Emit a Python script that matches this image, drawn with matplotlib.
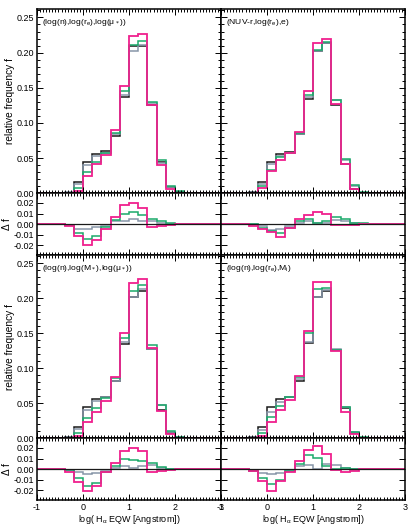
import numpy as np
import matplotlib
matplotlib.use("Agg")
import matplotlib.pyplot as plt
from matplotlib.ticker import MultipleLocator, FixedLocator

plt.rcParams['font.family'] = ['Liberation Sans', 'DejaVu Sans']
plt.rcParams['mathtext.fontset'] = 'dejavusans'

# bins of log(H_alpha EQW): edges from -1 to 3 in steps of 0.2
edges = np.round(np.arange(-1.0, 3.0001, 0.2), 2)
# values given for the bins starting at -0.4 ... 2.0 (13 bins); other bins are zero
first_bin = 3

panel_labels = [r"(log(n),log(r$_\mathregular{e}$),log(μ$_*$))",
                r"(NUV-r,log(r$_\mathregular{e}$),e)",
                r"(log(n),log(M$_*$),log(μ$_*$))",
                r"(log(n),log(r$_\mathregular{e}$),M$_\mathregular{i}$)"]

# main histograms: black, gray, green, pink
p1_black = [0.001, 0.016, 0.044, 0.056, 0.0595, 0.081, 0.137, 0.209, 0.2095, 0.126, 0.044, 0.0086, 0.0015]
p1_gray  = [0.002, 0.013, 0.040, 0.053, 0.0576, 0.084, 0.140, 0.203, 0.211, 0.128, 0.043, 0.0095, 0.001]
p1_green = [0.001, 0.0076, 0.030, 0.045, 0.0567, 0.086, 0.146, 0.211, 0.216, 0.130, 0.047, 0.011, 0.003]
p1_pink  = [0.0, 0.003, 0.024, 0.041, 0.054, 0.0895, 0.152, 0.223, 0.226, 0.125, 0.040, 0.006, 0.001]

p2_black = [0.0024, 0.0157, 0.044, 0.0557, 0.0586, 0.084, 0.134, 0.203, 0.213, 0.125, 0.041, 0.006, 0.0005]
p2_gray  = [0.0024, 0.013, 0.041, 0.053, 0.058, 0.0845, 0.137, 0.202, 0.214, 0.132, 0.0476, 0.010, 0.001]
p2_green = [0.0005, 0.011, 0.033, 0.052, 0.058, 0.0857, 0.1395, 0.204, 0.2145, 0.133, 0.049, 0.012, 0.0024]
p2_pink  = [0.0, 0.007, 0.031, 0.0476, 0.058, 0.087, 0.146, 0.214, 0.2195, 0.1267, 0.041, 0.006, 0.0005]

p3_black = [0.0015, 0.0157, 0.0443, 0.0557, 0.0586, 0.0814, 0.135, 0.2024, 0.211, 0.127, 0.0405, 0.007, 0.001]
p3_gray  = [0.0024, 0.0129, 0.040, 0.054, 0.0586, 0.0824, 0.137, 0.2014, 0.213, 0.128, 0.0476, 0.009, 0.0015]
p3_green = [0.0005, 0.007, 0.0286, 0.043, 0.057, 0.0857, 0.144, 0.2105, 0.2186, 0.134, 0.0476, 0.010, 0.0024]
p3_pink  = [0.0, 0.004, 0.0229, 0.038, 0.054, 0.088, 0.151, 0.222, 0.227, 0.129, 0.0395, 0.0057, 0.0005]

p4_black = [0.0024, 0.0157, 0.0443, 0.0557, 0.0586, 0.082, 0.1357, 0.2024, 0.211, 0.126, 0.0429, 0.007, 0.001]
p4_gray  = [0.0024, 0.012, 0.038, 0.052, 0.0586, 0.0843, 0.138, 0.2014, 0.212, 0.1275, 0.0443, 0.0086, 0.001]
p4_green = [0.0005, 0.007, 0.031, 0.046, 0.0586, 0.087, 0.150, 0.213, 0.2143, 0.126, 0.0443, 0.0086, 0.0015]
p4_pink  = [0.0, 0.004, 0.0229, 0.0405, 0.0548, 0.0895, 0.1538, 0.2238, 0.2238, 0.125, 0.038, 0.006, 0.0005]

# difference panels: gray, green, pink
d1_gray  = [-0.001, -0.0043, -0.0046, -0.003, -0.002, 0.0025, 0.0034, 0.0046, 0.0034, 0.0025, 0.0015, 0.0003, 0.0]
d1_green = [-0.001, -0.0083, -0.0135, -0.0114, -0.003, 0.004, 0.010, 0.0114, 0.0083, 0.0046, 0.0025, 0.001, 0.0]
d1_pink  = [-0.002, -0.0114, -0.0197, -0.015, -0.0046, 0.0065, 0.018, 0.020, 0.0148, -0.0028, -0.0018, -0.0006, 0.0]

d2_gray  = [0.0, -0.002, -0.0052, -0.0046, -0.002, 0.0015, 0.0025, 0.0009, 0.0015, 0.004, 0.0025, 0.0009, 0.0]
d2_green = [0.0, -0.0037, -0.0068, -0.0083, -0.0037, 0.0025, 0.0046, 0.0015, 0.0025, 0.0071, 0.0046, 0.0015, 0.0009]
d2_pink  = [-0.002, -0.0046, -0.0077, -0.012, -0.0037, 0.0046, 0.0089, 0.0114, 0.0092, -0.0006, -0.0012, -0.001, 0.0]

d3_gray  = [-0.0006, -0.0025, -0.0046, -0.0037, -0.002, 0.0015, 0.0025, 0.0012, 0.003, 0.0037, 0.0015, 0.0006, 0.0]
d3_green = [-0.001, -0.0086, -0.0154, -0.0129, -0.0025, 0.0025, 0.0092, 0.0083, 0.008, 0.0062, 0.002, 0.0006, 0.0]
d3_pink  = [-0.003, -0.0117, -0.0206, -0.0154, -0.003, 0.0062, 0.017, 0.020, 0.017, -0.0025, -0.0015, -0.001, 0.0]

d4_gray  = [-0.0015, -0.0037, -0.0046, -0.004, -0.0006, 0.003, 0.0037, 0.0006, 0.0046, 0.0037, 0.001, 0.0, 0.0]
d4_green = [-0.0015, -0.0086, -0.0138, -0.0098, -0.0018, 0.0046, 0.0132, 0.0108, 0.003, 0.0006, 0.0015, 0.0, 0.0]
d4_pink  = [-0.002, -0.0108, -0.0206, -0.0108, -0.003, 0.0077, 0.0178, 0.0215, 0.0138, -0.001, -0.003, -0.0015, 0.0]

mains = [(p1_black, p1_gray, p1_green, p1_pink), (p2_black, p2_gray, p2_green, p2_pink),
         (p3_black, p3_gray, p3_green, p3_pink), (p4_black, p4_gray, p4_green, p4_pink)]
deltas = [(d1_gray, d1_green, d1_pink), (d2_gray, d2_green, d2_pink),
          (d3_gray, d3_green, d3_pink), (d4_gray, d4_green, d4_pink)]

xtick_vals = [-1, 0, 1, 2, 3]
main_yticks = [0.00, 0.05, 0.10, 0.15, 0.20, 0.25]
delta_yticks = [-0.02, -0.01, 0.00, 0.01, 0.02]

C_BLACK = '#1a1a1a'
C_GRAY = '#8796a8'
C_GREEN = '#1aaa6a'
C_PINK = '#f0208e'

def full(vals):
    arr = np.zeros(len(edges) - 1)
    arr[first_bin:first_bin + len(vals)] = vals
    return arr

W, H = 415, 525
fig = plt.figure(figsize=(W / 100, H / 100), dpi=100)

col_x = [37 / W, 221 / W]
col_w = 184 / W
rows = [  # (main top px, main bottom px, delta bottom px)
    (9, 193.3, 255.0),
    (255.0, 438.3, 500.0),
]
FS = 6.5

def style(ax):
    ax.tick_params(which='both', direction='in', top=True, right=True, labelsize=FS, pad=2,
                   width=0.7, colors='black')
    ax.tick_params(which='major', length=4)
    ax.tick_params(which='minor', length=2)
    ax.xaxis.set_major_locator(FixedLocator(xtick_vals))
    ax.xaxis.set_minor_locator(MultipleLocator(1 / 15))
    for s in ax.spines.values():
        s.set_linewidth(1.1)

for i in range(4):
    r, c = divmod(i, 2)
    top, mbot, dbot = rows[r]
    x0 = col_x[c]
    axm = fig.add_axes([x0, 1 - mbot / H, col_w, (mbot - top) / H])
    axd = fig.add_axes([x0, 1 - dbot / H, col_w, (dbot - mbot) / H])

    blk, gry, grn, pnk = mains[i]
    for vals, col, lw in [(blk, C_BLACK, 1.1), (gry, C_GRAY, 1.1), (grn, C_GREEN, 1.1), (pnk, C_PINK, 1.3)]:
        axm.stairs(full(vals), edges, color=col, lw=lw, baseline=None)
    axm.set_xlim(-1, 3)
    axm.set_ylim(0, 0.262)
    style(axm)
    axm.yaxis.set_major_locator(FixedLocator(main_yticks))
    axm.yaxis.set_minor_locator(MultipleLocator(0.01))
    axm.set_xticklabels([])
    axm.text(0.025, 0.955, panel_labels[i], transform=axm.transAxes, fontsize=6.1, va='top', ha='left')

    dg, dgr, dp = deltas[i]
    axd.stairs(full(dg), edges, color=C_GRAY, lw=1.1, baseline=None)
    axd.stairs(full(dgr), edges, color=C_GREEN, lw=1.1, baseline=None)
    axd.stairs(full(dp), edges, color=C_PINK, lw=1.3, baseline=None)
    axd.axhline(0, color=C_BLACK, lw=0.9)
    axd.set_xlim(-1, 3)
    axd.set_ylim(-0.029, 0.029)
    style(axd)
    axd.yaxis.set_major_locator(FixedLocator(delta_yticks))

    if c == 0:
        axm.set_yticklabels(['%.2f' % v for v in main_yticks])
        axd.set_yticklabels(['%.2f' % v for v in delta_yticks])
        axm.set_ylabel('relative frequency f', fontsize=7.3, labelpad=1.5)
        axd.set_ylabel('Δ f', fontsize=7.3, labelpad=1.5)
    else:
        axm.set_yticklabels([])
        axd.set_yticklabels([])
    if r == 1:
        axd.set_xticklabels([str(v) for v in xtick_vals])
        axd.set_xlabel(r'log( H$_\mathregular{\alpha}$ EQW [Angstrom])', fontsize=FS, labelpad=1)
    else:
        axd.set_xticklabels([])

fig.savefig('out.png', dpi=100)
